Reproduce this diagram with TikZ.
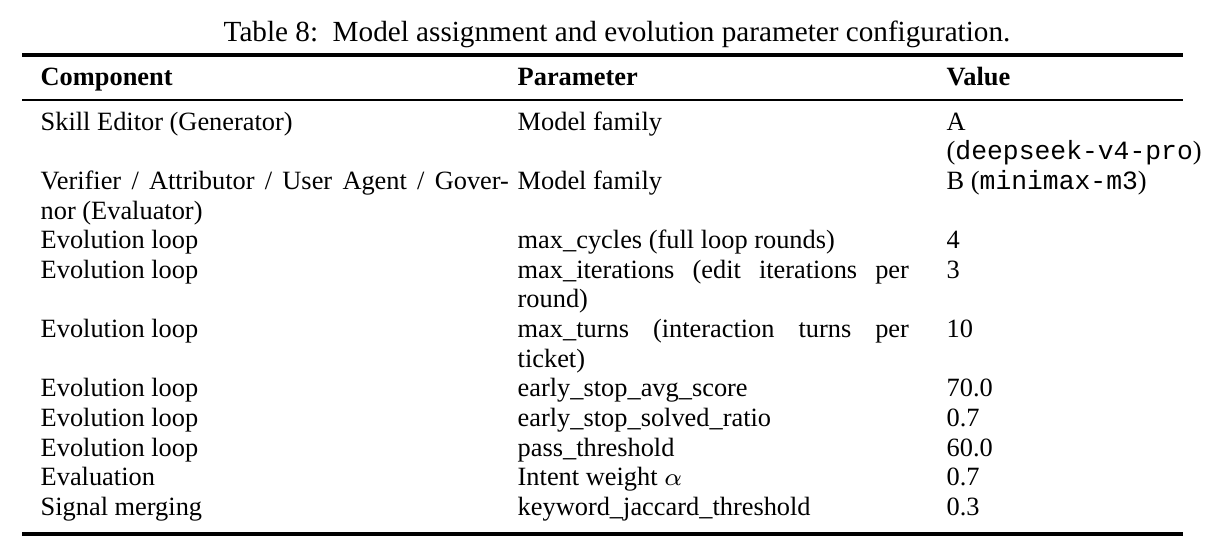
\documentclass[tikz,border=0pt]{standalone}
\usepackage{fontspec}
\setmainfont{Liberation Serif}
\setmonofont{Liberation Mono}
\begin{document}
\begin{tikzpicture}[x=0.01cm,y=-0.01cm,
  t/.style={anchor=mid west,inner sep=0pt,font=\fontsize{7.5pt}{9pt}\selectfont},
  h/.style={t,font=\fontsize{7.5pt}{9pt}\selectfont\bfseries},
  thick rule/.style={line width=0.9pt},
  thin rule/.style={line width=0.5pt}]
\useasboundingbox (0,0) rectangle (1218,554);
\def\R#1{122+29.65*#1}
\node[anchor=mid,inner sep=0pt,font=\fontsize{8.3pt}{10pt}\selectfont] (cap) at (617,33) {Table 8:\ \ Model assignment and evolution parameter configuration.};
\coordinate (tl) at (22,55); \coordinate (tr) at (1183,55);
\coordinate (ml) at (22,100); \coordinate (mr) at (1183,100);
\coordinate (bl) at (22,534); \coordinate (br) at (1183,534);
\draw[thick rule] (tl) -- (tr);
\draw[thin rule] (ml) -- (mr);
\draw[thick rule] (bl) -- (br);
\node[h] (h1) at (40,77) {Component};
\node[h] (h2) at (517,77) {Parameter};
\node[h] (h3) at (946,77) {Value};
% row 1
\node[t] (a1) at (40,{\R0}) {Skill Editor (Generator)};
\node[t] (b1) at (517,{\R0}) {Model family};
\node[t] (c1) at (946,{\R0}) {A};
\node[t] (c1b) at (946,{\R1}) {(\texttt{deepseek-v4-pro})};
% row 2
\node[t] (a2) at (40,{\R2}) {\hbox to 4.68cm{Verifier / Attributor / User Agent / Gover-}};
\node[t] (a2b) at (40,{\R3}) {nor (Evaluator)};
\node[t] (b2) at (517,{\R2}) {Model family};
\node[t] (c2) at (946,{\R2}) {B (\texttt{minimax-m3})};
% row 3
\node[t] (a3) at (40,{\R4}) {Evolution loop};
\node[t] (b3) at (517,{\R4}) {max\_cycles (full loop rounds)};
\node[t] (c3) at (946,{\R4}) {4};
% row 4
\node[t] (a4) at (40,{\R5}) {Evolution loop};
\node[t] (b4) at (517,{\R5}) {\hbox to 3.91cm{max\_iterations\hfill(edit\hfill iterations\hfill per}};
\node[t] (b4b) at (517,{\R6}) {round)};
\node[t] (c4) at (946,{\R5}) {3};
% row 5
\node[t] (a5) at (40,{\R7}) {Evolution loop};
\node[t] (b5) at (517,{\R7}) {\hbox to 3.91cm{max\_turns\hfill(interaction\hfill turns\hfill per}};
\node[t] (b5b) at (517,{\R8}) {ticket)};
\node[t] (c5) at (946,{\R7}) {10};
% rows 6-10
\node[t] (a6) at (40,{\R9}) {Evolution loop};
\node[t] (b6) at (517,{\R9}) {early\_stop\_avg\_score};
\node[t] (c6) at (946,{\R9}) {70.0};
\node[t] (a7) at (40,{\R{10}}) {Evolution loop};
\node[t] (b7) at (517,{\R{10}}) {early\_stop\_solved\_ratio};
\node[t] (c7) at (946,{\R{10}}) {0.7};
\node[t] (a8) at (40,{\R{11}}) {Evolution loop};
\node[t] (b8) at (517,{\R{11}}) {pass\_threshold};
\node[t] (c8) at (946,{\R{11}}) {60.0};
\node[t] (a9) at (40,{\R{12}}) {Evaluation};
\node[t] (b9) at (517,{\R{12}}) {Intent weight $\alpha$};
\node[t] (c9) at (946,{\R{12}}) {0.7};
\node[t] (a10) at (40,{\R{13}}) {Signal merging};
\node[t] (b10) at (517,{\R{13}}) {keyword\_jaccard\_threshold};
\node[t] (c10) at (946,{\R{13}}) {0.3};
\end{tikzpicture}
\end{document}
